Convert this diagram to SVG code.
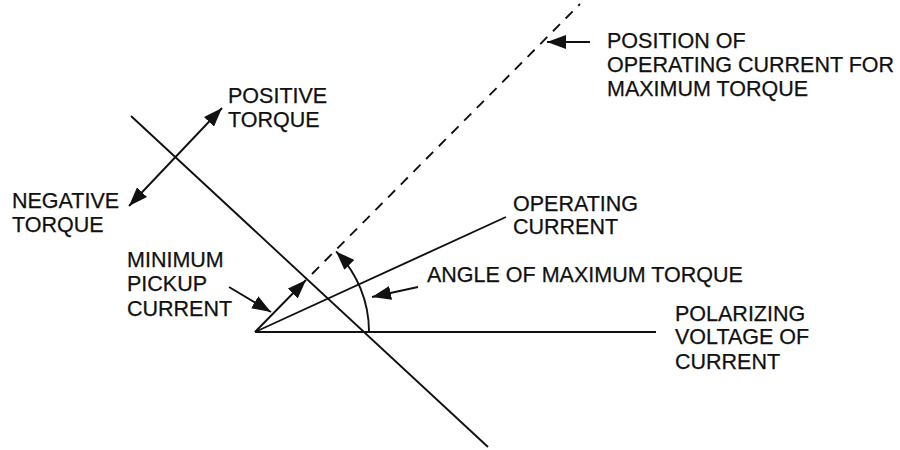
<svg xmlns="http://www.w3.org/2000/svg" width="900" height="450" viewBox="0 0 900 450">
<style>
text{font-family:"Liberation Sans",Arial,sans-serif;font-size:21.5px;fill:#111;stroke:#111;stroke-width:0.25}
.ln{stroke:#111;stroke-width:1.9;fill:none}
.ar{stroke:#111;stroke-width:1.9;fill:none;marker-end:url(#ah)}
.dash{stroke:#111;stroke-width:1.9;fill:none;stroke-dasharray:10 8}
</style>
<defs>
<marker id="ah" markerUnits="userSpaceOnUse" markerWidth="20" markerHeight="14" refX="19" refY="7" orient="auto">
<path d="M0,0 L19,7 L0,14 Z" fill="#111"/>
</marker>
<marker id="ahs" markerUnits="userSpaceOnUse" markerWidth="20" markerHeight="14" refX="1" refY="7" orient="auto">
<path d="M20,0 L1,7 L20,14 Z" fill="#111"/>
</marker>
</defs>
<g id="connectors">
<line class="ln" x1="131" y1="116" x2="488" y2="447"/>
<line class="ln" x1="255" y1="332" x2="656" y2="332"/>
<line class="ln" x1="255" y1="332" x2="506" y2="217"/>
<line class="ar" x1="255" y1="332" x2="306" y2="280"/>
<line class="dash" x1="312" y1="274" x2="580" y2="4"/>
<line class="ln" x1="129" y1="206" x2="222" y2="108" style="marker-start:url(#ahs);marker-end:url(#ah)"/>
<line class="ar" x1="229" y1="287" x2="271" y2="312"/>
<line class="ar" x1="418" y1="287" x2="372" y2="297"/>
<line class="ar" x1="590" y1="42" x2="547" y2="42"/>
<path class="ar" d="M369,332 A114,114 0 0 0 336,251.4"/>
</g>
<g id="positive-torque"><text x="228" y="103">POSITIVE</text><text x="228" y="127">TORQUE</text></g>
<g id="negative-torque"><text x="12" y="208">NEGATIVE</text><text x="12" y="232">TORQUE</text></g>
<g id="minimum-pickup"><text x="127" y="267">MINIMUM</text><text x="127" y="291">PICKUP</text><text x="127" y="316">CURRENT</text></g>
<g id="operating-current"><text x="513" y="211">OPERATING</text><text x="513" y="234">CURRENT</text></g>
<g id="angle-max"><text x="427" y="282">ANGLE OF MAXIMUM TORQUE</text></g>
<g id="polarizing"><text x="675" y="321">POLARIZING</text><text x="675" y="344">VOLTAGE OF</text><text x="675" y="369">CURRENT</text></g>
<g id="position"><text x="607" y="48">POSITION OF</text><text x="607" y="72">OPERATING CURRENT FOR</text><text x="607" y="96">MAXIMUM TORQUE</text></g>
</svg>
